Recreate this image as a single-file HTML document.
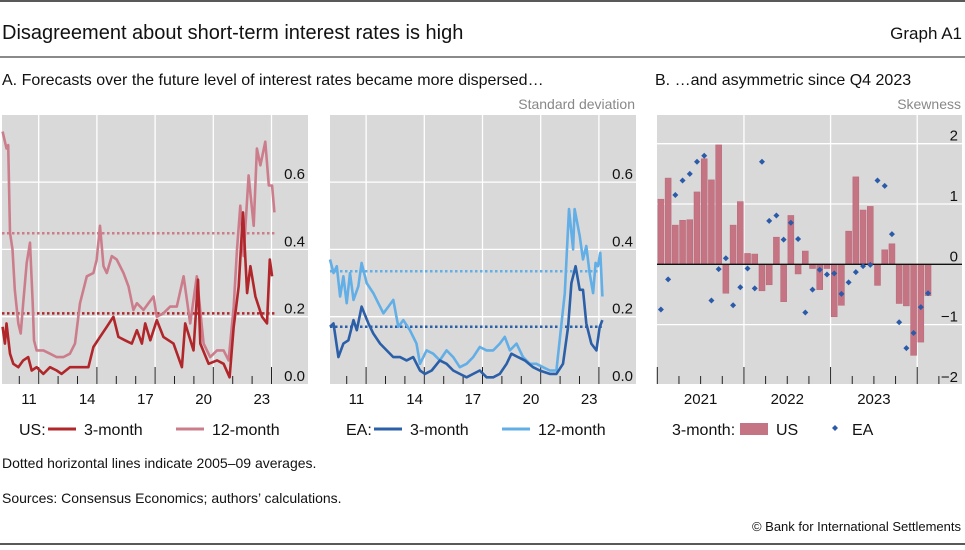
<!DOCTYPE html>
<html><head><meta charset="utf-8">
<style>
html,body{margin:0;padding:0;background:#fff;}
body{width:965px;height:545px;overflow:hidden;font-family:"Liberation Sans",sans-serif;position:relative;}
svg text{font-family:"Liberation Sans",sans-serif;}
</style></head>
<body>
<svg id="chart" width="965" height="545" xmlns="http://www.w3.org/2000/svg">
<line x1="0" y1="1" x2="965" y2="1" stroke="#222" stroke-width="1.5"/>
<text x="2" y="39" font-size="20" fill="#111">Disagreement about short-term interest rates is high</text>
<text x="962" y="39" font-size="17" fill="#111" text-anchor="end">Graph A1</text>
<line x1="0" y1="57" x2="965" y2="57" stroke="#444" stroke-width="1.2"/>
<text x="2" y="85" font-size="16" fill="#111">A. Forecasts over the future level of interest rates became more dispersed…</text>
<text x="655" y="85" font-size="16" fill="#111">B. …and asymmetric since Q4 2023</text>
<text x="635" y="109" font-size="14" fill="#888" text-anchor="end">Standard deviation</text>
<text x="961" y="109" font-size="14" fill="#888" text-anchor="end">Skewness</text>
<g id="plots"></g>
<g>
<text x="19" y="435" font-size="16" fill="#111">US:</text>
<line x1="48" y1="429" x2="76" y2="429" stroke="#b0262a" stroke-width="3"/>
<text x="84" y="435" font-size="16" fill="#111">3-month</text>
<line x1="176" y1="429" x2="204" y2="429" stroke="#cc7d8c" stroke-width="3"/>
<text x="212" y="435" font-size="16" fill="#111">12-month</text>
</g>
<g>
<text x="346" y="435" font-size="16" fill="#111">EA:</text>
<line x1="374" y1="429" x2="402" y2="429" stroke="#2b5fa8" stroke-width="3"/>
<text x="410" y="435" font-size="16" fill="#111">3-month</text>
<line x1="502" y1="429" x2="530" y2="429" stroke="#62aee6" stroke-width="3"/>
<text x="538" y="435" font-size="16" fill="#111">12-month</text>
</g>
<g>
<text x="672" y="435" font-size="16" fill="#111">3-month:</text>
<rect x="740" y="423" width="28" height="12" fill="#c57483"/>
<text x="776" y="435" font-size="16" fill="#111">US</text>
<path d="M835 425 l3 3 l-3 3 l-3 -3z" fill="#2a5aa8"/>
<text x="852" y="435" font-size="16" fill="#111">EA</text>
</g>
<text x="2" y="468" font-size="14" fill="#111">Dotted horizontal lines indicate 2005–09 averages.</text>
<text x="2" y="503" font-size="14" fill="#111">Sources: Consensus Economics; authors’ calculations.</text>
<text x="961" y="531" font-size="13" fill="#111" text-anchor="end">© Bank for International Settlements</text>
<line x1="0" y1="544" x2="965" y2="544" stroke="#222" stroke-width="1.5"/>
</svg>
<script>
const usYears12 = [2010.14,2010.34,2010.43,2010.52,2010.65,2010.77,2010.95,2011.07,2011.20,2011.38,2011.55,2011.69,2011.76,2011.89,2012.24,2012.58,2012.93,2013.27,2013.61,2013.87,2014.13,2014.48,2014.82,2014.99,2015.16,2015.34,2015.51,2015.77,2016.02,2016.37,2016.63,2016.88,2017.06,2017.40,2017.66,2017.92,2018.09,2018.43,2018.78,2019.12,2019.47,2019.81,2020.15,2020.50,2020.84,2021.19,2021.53,2021.79,2022.05,2022.22,2022.39,2022.56,2022.82,2023.08,2023.25,2023.43,2023.68,2023.86,2024.03,2024.15];
const us12 = [0.75,0.70,0.71,0.45,0.40,0.28,0.18,0.15,0.24,0.36,0.42,0.24,0.13,0.10,0.10,0.09,0.08,0.08,0.09,0.12,0.24,0.32,0.33,0.37,0.47,0.35,0.33,0.38,0.37,0.33,0.29,0.22,0.24,0.22,0.24,0.26,0.20,0.21,0.23,0.23,0.32,0.18,0.32,0.12,0.08,0.10,0.10,0.07,0.23,0.40,0.53,0.38,0.62,0.47,0.70,0.65,0.72,0.59,0.59,0.51];
const usYears3 = [2010.14,2010.26,2010.34,2010.52,2010.69,2010.95,2011.20,2011.46,2011.64,2011.89,2012.24,2012.58,2012.93,2013.18,2013.61,2014.13,2014.56,2014.82,2015.16,2015.51,2015.85,2016.11,2016.45,2016.80,2017.06,2017.32,2017.49,2017.75,2018.09,2018.43,2018.95,2019.38,2019.55,2019.98,2020.21,2020.33,2020.76,2021.19,2021.53,2021.84,2022.05,2022.31,2022.53,2022.74,2022.91,2023.17,2023.51,2023.77,2023.91,2024.03];
const us3 = [0.17,0.12,0.18,0.09,0.06,0.05,0.07,0.08,0.04,0.05,0.03,0.05,0.04,0.03,0.05,0.05,0.05,0.11,0.14,0.17,0.20,0.14,0.13,0.12,0.16,0.12,0.18,0.13,0.19,0.14,0.12,0.05,0.18,0.10,0.31,0.12,0.06,0.07,0.06,0.02,0.17,0.29,0.51,0.27,0.35,0.26,0.20,0.18,0.37,0.32];
const usAvg = [0.21, 0.448];
const eaYears12 = [2010.14,2010.32,2010.49,2010.66,2010.83,2011.00,2011.17,2011.35,2011.60,2011.77,2012.03,2012.37,2012.63,2012.89,2013.15,2013.40,2013.66,2013.92,2014.26,2014.60,2014.78,2015.12,2015.46,2015.80,2016.15,2016.49,2016.83,2017.18,2017.52,2017.86,2018.21,2018.55,2018.89,2019.15,2019.41,2019.75,2020.09,2020.44,2020.78,2021.12,2021.47,2021.81,2022.07,2022.24,2022.46,2022.67,2022.75,2023.01,2023.18,2023.35,2023.52,2023.70,2023.83,2023.95,2024.07,2024.18];
const ea12 = [0.37,0.33,0.35,0.26,0.32,0.24,0.33,0.25,0.29,0.36,0.30,0.27,0.24,0.21,0.23,0.25,0.17,0.19,0.16,0.12,0.06,0.10,0.09,0.07,0.10,0.08,0.05,0.06,0.08,0.11,0.10,0.10,0.12,0.14,0.10,0.12,0.08,0.06,0.06,0.05,0.04,0.04,0.18,0.27,0.52,0.40,0.52,0.44,0.37,0.41,0.33,0.27,0.36,0.35,0.39,0.26];
const eaYears3 = [2010.14,2010.32,2010.57,2010.83,2011.09,2011.35,2011.52,2011.77,2012.12,2012.37,2012.72,2013.06,2013.40,2013.75,2014.09,2014.43,2014.78,2015.03,2015.38,2015.80,2016.15,2016.49,2016.83,2017.18,2017.52,2017.86,2018.21,2018.55,2018.89,2019.24,2019.49,2019.83,2020.18,2020.61,2020.95,2021.47,2021.81,2022.15,2022.41,2022.58,2022.80,2023.01,2023.18,2023.35,2023.61,2023.87,2024.04,2024.18];
const ea3 = [0.17,0.18,0.08,0.12,0.13,0.19,0.16,0.23,0.18,0.15,0.12,0.10,0.08,0.08,0.07,0.08,0.04,0.03,0.04,0.07,0.06,0.04,0.03,0.02,0.03,0.04,0.02,0.02,0.03,0.06,0.09,0.08,0.07,0.05,0.04,0.03,0.03,0.06,0.17,0.30,0.35,0.28,0.28,0.18,0.12,0.10,0.17,0.19];
const eaAvg = [0.17, 0.335];
const aTicks = ["0.0","0.2","0.4","0.6"];
const aTickVals = [0,0.2,0.4,0.6];
const aYearLabels = ["11","14","17","20","23"];
const aYearLabelVals = [2011,2014,2017,2020,2023];
const bMonths = ["2021-01","2021-02","2021-03","2021-04","2021-05","2021-06","2021-07","2021-08","2021-09","2021-10","2021-11","2021-12","2022-01","2022-02","2022-03","2022-04","2022-05","2022-06","2022-07","2022-08","2022-09","2022-10","2022-11","2022-12","2023-01","2023-02","2023-03","2023-04","2023-05","2023-06","2023-07","2023-08","2023-09","2023-10","2023-11","2023-12","2024-01","2024-02"];
const usSkew = [1.08,1.43,0.65,0.73,0.74,1.20,1.75,1.40,1.98,-0.48,0.65,1.04,0.18,0.17,-0.44,-0.34,0.45,-0.62,0.81,-0.16,0.22,-0.07,-0.42,-0.07,-0.87,-0.68,0.55,1.45,0.90,0.96,-0.35,0.24,0.34,-0.65,-0.69,-1.51,-1.29,-0.52];
const eaSkew = [-0.75,-0.25,1.15,1.39,1.50,1.70,1.80,-0.60,-0.08,0.10,-0.68,-0.38,-0.07,-0.40,1.70,0.72,0.81,0.41,0.69,0.42,-0.80,-0.42,-0.09,-0.17,-0.15,-0.49,-0.30,-0.13,-0.03,-0.01,1.39,1.30,0.50,-0.96,-1.39,-1.14,-0.71,-0.48];
const bTicks = ["−2","−1","0","1","2"];
const bTickVals = [-2,-1,0,1,2];
const bYearLabels = ["2021","2022","2023"];

const NS="http://www.w3.org/2000/svg";
const root=document.getElementById('plots');
function mk(tag,attrs,parent){const e=document.createElementNS(NS,tag);for(const k in attrs)e.setAttribute(k,attrs[k]);(parent||root).appendChild(e);return e;}
const TOP=115,BOT=384;

function panelA(id,left,right,x2011,years12,v12,years3,v3,avg,c3,c12){
  const g=mk('g',{});
  
  
  const yw=19.4;
  const xs=y=>x2011+(y-2011)*yw;
  const ys=v=>BOT-v*336.5;
  const bg=mk('rect',{x:left,y:TOP,width:right-left,height:BOT-TOP,fill:'#d9d9d9'},g);
  
  
  aTickVals.forEach((v,i)=>{
    if(v>0){const gl=mk('line',{x1:left,x2:right,y1:ys(v),y2:ys(v),stroke:'#fff','stroke-width':1.3},g);
      
      }
    const t=mk('text',{x:right-3,y:ys(v)-3,'font-size':15,'text-anchor':'end',fill:'#111'},g);
    t.textContent=aTicks[i];
    
    
  });
  for(let yr=2011;yr<=2024;yr++){
    const major=((yr-2012)%3===0);
    const x=xs(yr);
    if(major){const gl=mk('line',{x1:x,x2:x,y1:TOP,y2:BOT,stroke:'#fff','stroke-width':1.3},g);
      
      }
    const tk=mk('line',{x1:x,x2:x,y1:BOT-(major?17:8),y2:BOT,stroke:'#222','stroke-width':1},g);
    
    
  }
  aYearLabelVals.forEach((yr,i)=>{
    const t=mk('text',{x:xs(yr+0.5),y:404,'font-size':15,'text-anchor':'middle',fill:'#111'},g);
    t.textContent=aYearLabels[i];
    
    
  });
  const xEnd=xs(2024.15);
  const d3=mk('line',{x1:left,x2:xEnd,y1:ys(avg[0]),y2:ys(avg[0]),stroke:c3,'stroke-width':2.5,'stroke-dasharray':'2.5 2.5'},g);
  
  
  const d12=mk('line',{x1:left,x2:xEnd,y1:ys(avg[1]),y2:ys(avg[1]),stroke:c12,'stroke-width':2.5,'stroke-dasharray':'2.5 2.5'},g);
  
  
  const p12=mk('polyline',{points:years12.map((y,i)=>xs(y).toFixed(1)+','+ys(v12[i]).toFixed(1)).join(' '),fill:'none',stroke:c12,'stroke-width':2.6,'stroke-linejoin':'round'},g);
  
  
  const p3=mk('polyline',{points:years3.map((y,i)=>xs(y).toFixed(1)+','+ys(v3[i]).toFixed(1)).join(' '),fill:'none',stroke:c3,'stroke-width':2.6,'stroke-linejoin':'round'},g);
  
  
}
panelA('us',2,308,19.3,usYears12,us12,usYears3,us3,usAvg,'#b0262a','#cc7d8c');
panelA('ea',330,636,346.7,eaYears12,ea12,eaYears3,ea3,eaAvg,'#2b5fa8','#62aee6');

(function(){
  const g=mk('g',{});
  
  
  const left=657,right=962,mw=7.22,x0=657.3;
  const ys=v=>264.3-v*60.3;
  const bg=mk('rect',{x:left,y:TOP,width:right-left,height:BOT-TOP,fill:'#d9d9d9'},g);
  
  
  bTickVals.forEach((v,i)=>{
    if(v!==0&&v!==-2){const gl=mk('line',{x1:left,x2:right,y1:ys(v),y2:ys(v),stroke:'#fff','stroke-width':1.3},g);
      
      }
    const t=mk('text',{x:right-4,y:ys(v)-3,'font-size':15,'text-anchor':'end',fill:'#111'},g);
    t.textContent=bTicks[i];
    
    
  });
  for(let q=0;q<=13;q++){
    const x=x0+q*3*mw;
    const major=(q%4===0);
    if(major&&q>0){const gl=mk('line',{x1:x,x2:x,y1:TOP,y2:BOT,stroke:'#fff','stroke-width':1.3},g);
      
      }
    const tk=mk('line',{x1:x,x2:x,y1:BOT-(major?17:8),y2:BOT,stroke:'#222','stroke-width':1},g);
    
    
  }
  bYearLabels.forEach((lab,i)=>{
    const t=mk('text',{x:x0+(i*12+6)*mw,y:404,'font-size':15,'text-anchor':'middle',fill:'#111'},g);
    t.textContent=lab;
    
    
  });
  usSkew.forEach((v,i)=>{
    const x=x0+i*mw+0.6;
    const r=mk('rect',{x:x,y:Math.min(ys(v),ys(0)),width:6,height:Math.abs(ys(v)-ys(0)),fill:'#c57483',stroke:'#b86676','stroke-width':0.5},g);
    
    
  });
  const z=mk('line',{x1:left,x2:right,y1:ys(0),y2:ys(0),stroke:'#111','stroke-width':1.3},g);
  
  
  eaSkew.forEach((v,i)=>{
    const cx=x0+i*mw+3.6, cy=ys(v);
    const d=mk('path',{d:`M${cx} ${cy-3} L${cx+3} ${cy} L${cx} ${cy+3} L${cx-3} ${cy}Z`,fill:'#2a5aa8'},g);
    
    
  });
})();
</script>
</body></html>
